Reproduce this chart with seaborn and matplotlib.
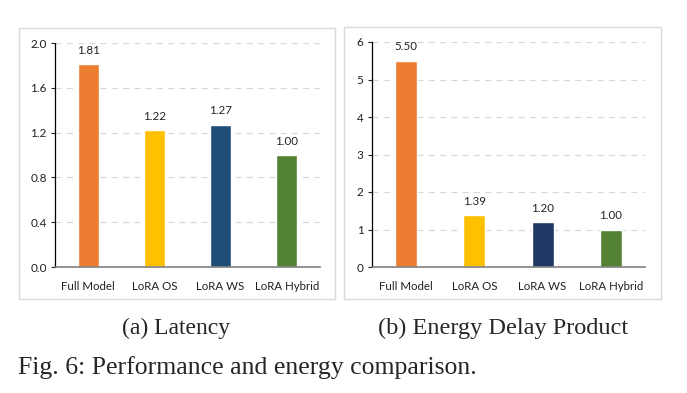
import matplotlib
matplotlib.use("Agg")
import matplotlib.pyplot as plt
from matplotlib.patches import Rectangle
import pandas as pd
import seaborn as sns

# data
configs = ["Full Model", "LoRA OS", "LoRA WS", "LoRA Hybrid"]
latency = [1.81, 1.22, 1.27, 1.00]
edp = [5.50, 1.39, 1.20, 1.00]
latency_colors = ["#ED7D31", "#FFC000", "#1F4E79", "#548235"]
edp_colors = ["#ED7D31", "#FFC000", "#203864", "#548235"]
latency_ticks = [0.0, 0.4, 0.8, 1.2, 1.6, 2.0]
edp_ticks = [0, 1, 2, 3, 4, 5, 6]

sns.set_theme(style="white")
plt.rcParams["font.family"] = ["Lato", "DejaVu Sans"]

fig = plt.figure(figsize=(6.87, 3.93), dpi=100)
W, H = 687, 393


def fig_rect(x0, y0, x1, y1):
    # pixel box (top-left origin) -> figure fraction [left, bottom, width, height]
    return [x0 / W, 1 - y1 / H, (x1 - x0) / W, (y1 - y0) / H]


# light frames around each panel (Excel chart area)
for x0, y0, x1, y1 in [(19, 28, 335, 299), (344, 27, 661, 299)]:
    l, b, w, h = fig_rect(x0, y0, x1, y1)
    fig.patches.append(Rectangle((l, b), w, h, transform=fig.transFigure,
                                 fill=False, edgecolor="#D9D9D9", linewidth=1.0))


def panel(rect, values, colors, ticks, tick_fmt):
    ax = fig.add_axes(rect)
    df = pd.DataFrame({"config": configs, "value": values})
    sns.barplot(data=df, x="config", y="value", hue="config", palette=colors,
                width=0.32, legend=False, saturation=1, ax=ax)
    for c in ax.containers:
        ax.bar_label(c, fmt="%.2f", padding=6, fontsize=8.3, color="#222222")
    ax.set_ylim(ticks[0], ticks[-1])
    ax.set_xlim(-0.5, 3.5)
    ax.set_yticks(ticks)
    ax.set_yticklabels([tick_fmt.format(t) for t in ticks])
    ax.set_xlabel("")
    ax.set_ylabel("")
    ax.yaxis.grid(True, linestyle=(0, (5, 4)), color="#D9D9D9", linewidth=0.9)
    ax.set_axisbelow(True)
    for s in ["top", "right"]:
        ax.spines[s].set_visible(False)
    ax.spines["left"].set_color("black")
    ax.spines["left"].set_linewidth(0.9)
    ax.spines["bottom"].set_color("#808080")
    ax.spines["bottom"].set_linewidth(1.2)
    ax.tick_params(axis="y", left=True, length=3, width=0.8, labelsize=8.5,
                   pad=3, colors="#222222")
    ax.tick_params(axis="x", bottom=False, labelsize=8.3, pad=4, colors="#222222")
    return ax


panel(fig_rect(55, 43, 320, 267), latency, latency_colors, latency_ticks, "{:.1f}")
panel(fig_rect(372, 42, 645, 267), edp, edp_colors, edp_ticks, "{:d}")

serif = ["Liberation Serif", "DejaVu Serif"]
fig.text(176 / W, 1 - 328 / H, "(a) Latency", ha="center", va="center",
         fontsize=17, family=serif)
fig.text(503 / W, 1 - 328 / H, "(b) Energy Delay Product", ha="center", va="center",
         fontsize=17.5, family=serif)
fig.text(18 / W, 1 - 368 / H, "Fig. 6: Performance and energy comparison.",
         ha="left", va="center", fontsize=18.5, family=serif)

fig.savefig("out.png", dpi=100)
